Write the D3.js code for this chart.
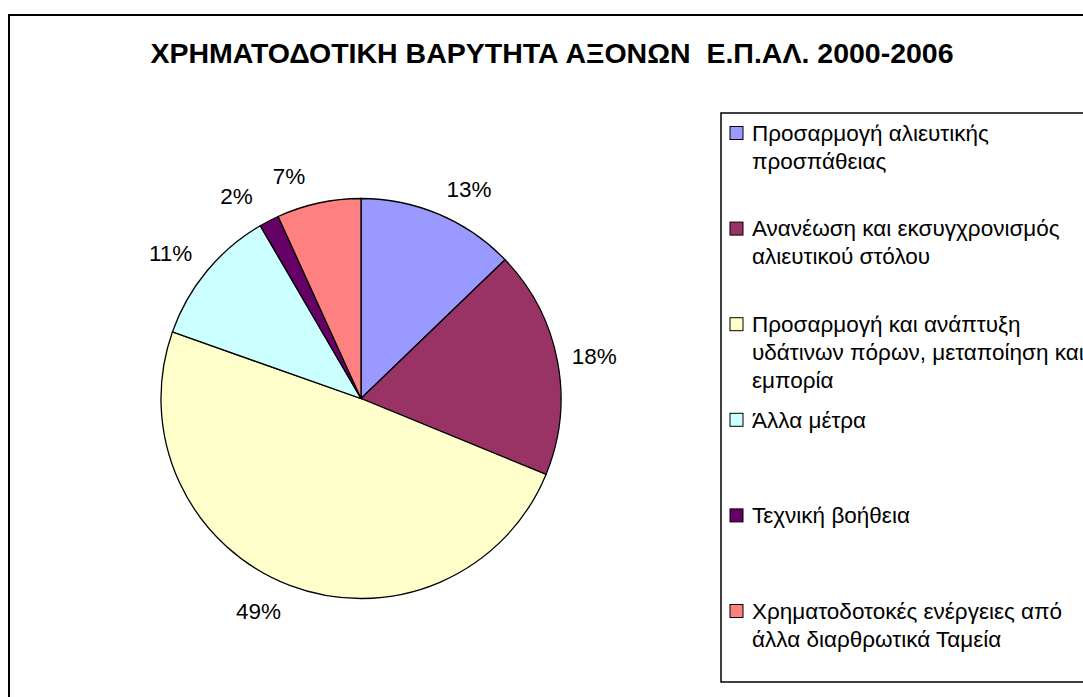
<!DOCTYPE html>
<html>
<head>
<meta charset="utf-8">
<script src="https://cdn.jsdelivr.net/npm/d3@7"></script>
<style>
  html, body { margin: 0; padding: 0; background: #fff; }
  svg { display: block; font-family: "Liberation Sans", Arial, sans-serif; }
</style>
</head>
<body>
<svg id="chart" width="1083" height="697"></svg>
<script>
// data (share of funding per axis, %)
var categories = [
    ['Προσαρμογή αλιευτικής', 'προσπάθειας'],
    ['Ανανέωση και εκσυγχρονισμός', 'αλιευτικού στόλου'],
    ['Προσαρμογή και ανάπτυξη', 'υδάτινων πόρων, μεταποίηση και', 'εμπορία'],
    ['Άλλα μέτρα'],
    ['Τεχνική βοήθεια'],
    ['Χρηματοδοτοκές ενέργειες από', 'άλλα διαρθρωτικά Ταμεία']
];
var values = [12.8, 18.4, 49.2, 11.2, 1.6, 6.8];
var colors = ['#9999FF', '#993366', '#FFFFCC', '#CCFFFF', '#660066', '#FF8080'];
var title = 'ΧΡΗΜΑΤΟΔΟΤΙΚΗ ΒΑΡΥΤΗΤΑ ΑΞΟΝΩΝ  Ε.Π.ΑΛ. 2000-2006';

var svg = d3.select('#chart');

// chart area frame (runs off the right and bottom edge)
svg.append('rect')
    .attr('x', 9).attr('y', 15)
    .attr('width', 1090).attr('height', 700)
    .attr('fill', '#fff')
    .attr('stroke', '#000')
    .attr('stroke-width', 2);

svg.append('text')
    .attr('x', 552).attr('y', 63)
    .attr('text-anchor', 'middle')
    .attr('font-size', 28.5)
    .attr('font-weight', 'bold')
    .style('white-space', 'pre')
    .text(title);

var cx = 361, cy = 398.5, r = 200;

var pie = d3.pie().sort(null).value(function(d) { return d; });
var arcs = pie(values);
var arc = d3.arc().innerRadius(0).outerRadius(r);

var g = svg.append('g').attr('transform', 'translate(' + cx + ',' + cy + ')');

g.selectAll('path')
    .data(arcs)
    .enter()
    .append('path')
    .attr('d', arc)
    .attr('fill', function(d, i) { return colors[i]; })
    .attr('stroke', '#000')
    .attr('stroke-width', 1.3);

// labels sit outside the pie, pushed sideways by about half their width
function labelPos(d) {
    var a = (d.startAngle + d.endAngle) / 2;
    var s = Math.sin(a);
    return [212 * s + (s < 0 ? -27 : 25), -228 * Math.cos(a)];
}

var total = d3.sum(values);
g.selectAll('.pct')
    .data(arcs)
    .enter()
    .append('text')
    .attr('class', 'pct')
    .attr('transform', function(d) {
        var p = labelPos(d);
        return 'translate(' + p[0] + ',' + p[1] + ')';
    })
    .attr('text-anchor', 'middle')
    .attr('dy', '0.35em')
    .attr('font-size', 22.5)
    .text(function(d) { return Math.round(d.value / total * 100) + '%'; });

// legend
var legend = svg.append('g');
legend.append('rect')
    .attr('x', 721).attr('y', 113)
    .attr('width', 400).attr('height', 569)
    .attr('fill', '#fff')
    .attr('stroke', '#000')
    .attr('stroke-width', 1.5);

var ly = d3.scaleLinear().domain([0, categories.length - 1]).range([133, 611]);
var lineH = 28;

var items = legend.selectAll('.item')
    .data(categories)
    .enter()
    .append('g')
    .attr('class', 'item')
    .attr('transform', function(d, i) { return 'translate(0,' + ly(i) + ')'; });

items.append('rect')
    .attr('x', 730).attr('y', -6.5)
    .attr('width', 13).attr('height', 13)
    .attr('fill', function(d, i) { return colors[i]; })
    .attr('stroke', '#000')
    .attr('stroke-width', 1);

items.append('text')
    .attr('font-size', 22.5)
    .selectAll('tspan')
    .data(function(d) { return d; })
    .enter()
    .append('tspan')
    .attr('x', 752)
    .attr('y', function(d, i) { return i * lineH; })
    .attr('dy', '0.35em')
    .text(function(d) { return d; });
</script>
</body>
</html>
